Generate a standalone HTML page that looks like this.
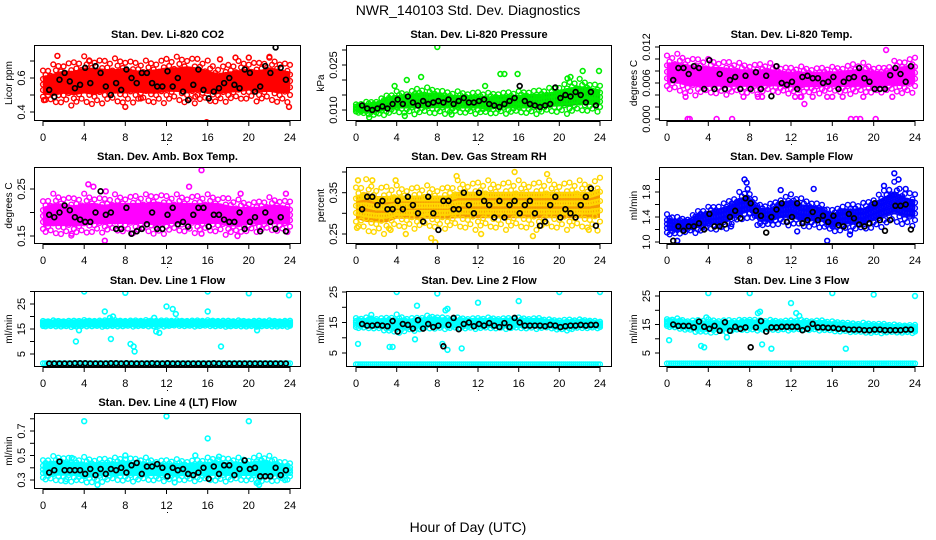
<!DOCTYPE html>
<html><head><meta charset="utf-8"><style>
html,body{margin:0;padding:0;background:#fff}
svg{display:block;font-family:"Liberation Sans",Arial,sans-serif}
</style></head><body>
<svg id="chart" width="936" height="540" viewBox="0 0 936 540" xmlns="http://www.w3.org/2000/svg">
<rect width="936" height="540" fill="#fff"/>
<text x="468" y="15" text-anchor="middle" font-size="14">NWR_140103  Std. Dev. Diagnostics</text>
<text x="468" y="532" text-anchor="middle" font-size="14">Hour of Day (UTC)</text>
<g id="panels"></g>
</svg>
<script>
// ---- shared hours ----
const bandHours = [0,1,2,3,4,5,6,7,8,9,10,11,12,13,14,15,16,17,18,19,20,21,22,23,24];
const blackHours = [0.6,1.1,1.6,2.1,2.6,3.1,3.6,4.1,4.6,5.1,5.6,6.1,6.6,7.1,7.6,8.1,8.6,9.1,9.6,10.1,10.6,11.1,11.6,12.1,12.6,13.1,13.6,14.1,14.6,15.1,15.6,16.1,16.6,17.1,17.6,18.1,18.6,19.1,19.6,20.1,20.6,21.1,21.6,22.1,22.6,23.1,23.6];
const xTicks = [0,4,8,12,16,20,24];

// ---- panel 1: CO2 ----
const co2Lo = [0.49,0.48,0.49,0.48,0.49,0.48,0.50,0.49,0.49,0.50,0.49,0.49,0.50,0.50,0.49,0.50,0.49,0.49,0.50,0.50,0.51,0.50,0.50,0.49,0.50];
const co2Hi = [0.62,0.64,0.66,0.66,0.68,0.68,0.67,0.67,0.68,0.66,0.66,0.67,0.68,0.68,0.69,0.68,0.66,0.64,0.65,0.66,0.67,0.66,0.68,0.67,0.65];
const co2OutX = [1.4,8,15.9,20,14.8,23.9,17.2,18.7,4.5,9.5,22,0.1];
const co2OutY = [0.73,0.43,0.34,0.72,0.49,0.43,0.71,0.72,0.70,0.48,0.72,0.47];
const co2Black = [0.53,0.49,0.59,0.63,0.58,0.54,0.56,0.66,0.57,0.67,0.63,0.55,0.50,0.57,0.53,0.65,0.60,0.57,0.63,0.63,0.57,0.55,0.55,0.64,0.55,0.60,0.52,0.47,0.56,0.65,0.53,0.48,0.52,0.54,0.57,0.60,0.56,0.54,0.65,0.63,0.52,0.55,0.67,0.63,0.78,0.66,0.59];
// ---- panel 2: pressure ----
const presLo = [0.0095,0.009,0.009,0.0095,0.0100,0.0100,0.0100,0.0100,0.0100,0.0100,0.0100,0.0100,0.0100,0.0095,0.0100,0.0100,0.0100,0.0100,0.0100,0.0105,0.0105,0.0105,0.0110,0.0110,0.0110];
const presHi = [0.0115,0.0120,0.0125,0.0140,0.0150,0.0150,0.0160,0.0160,0.0160,0.0150,0.0150,0.0150,0.0150,0.0145,0.0150,0.0150,0.0150,0.0155,0.0155,0.0160,0.0170,0.0180,0.0185,0.0180,0.0170];
const presOutX = [8,6.4,5,3.8,14.2,14.6,15.9,22.3,23.9,12.7,9.4,4.8,1.3,20.8,21.1];
const presOutY = [0.031,0.021,0.020,0.018,0.022,0.022,0.022,0.023,0.023,0.018,0.0085,0.0080,0.0075,0.0205,0.021];
const presBlack = [0.0115,0.0105,0.0100,0.0105,0.0112,0.0105,0.0120,0.0135,0.0120,0.0145,0.0125,0.0115,0.0130,0.0120,0.0125,0.0130,0.0125,0.0135,0.0120,0.0130,0.0140,0.0125,0.0125,0.0130,0.0135,0.0120,0.0115,0.0110,0.0120,0.0130,0.0140,0.0180,0.0130,0.0120,0.0115,0.0110,0.0115,0.0120,0.0175,0.0140,0.0150,0.0145,0.0160,0.0150,0.0125,0.0160,0.0115];
// ---- panel 3: Li-820 temp ----
const tempLo = [0.0055,0.0055,0.0050,0.0050,0.0050,0.0050,0.0050,0.0050,0.0050,0.0050,0.0052,0.0050,0.0050,0.0050,0.0050,0.0050,0.0052,0.0050,0.0050,0.0050,0.0050,0.0052,0.0052,0.0050,0.0055];
const tempHi = [0.0098,0.0098,0.0095,0.0092,0.0090,0.0090,0.0088,0.0085,0.0085,0.0085,0.0085,0.0082,0.0080,0.0080,0.0080,0.0080,0.0080,0.0082,0.0085,0.0085,0.0082,0.0080,0.0088,0.0092,0.0095];
const tempOutX = [2,2.2,4.8,6.3,17.8,18.3,18.7,20.2,13.3,21.2,8.8,9.2,12.4,13,14.1,16,17,19,21.8,1.8,3.6,7.4,12.9,15.5];
const tempOutY = [0,0,0,0,0,0,0,0,0.0025,0.0115,0.0037,0.0037,0.0037,0.0037,0.0037,0.0037,0.0037,0.0037,0.0037,0.0037,0.0050,0.0037,0.0037,0.0037];
const tempBlack = [0.0065,0.0085,0.0085,0.0075,0.0088,0.0085,0.0050,0.0098,0.0050,0.0075,0.0050,0.0065,0.0070,0.0050,0.0072,0.0050,0.0078,0.0050,0.0072,0.0038,0.0088,0.0060,0.0057,0.0062,0.0050,0.0070,0.0072,0.0068,0.0068,0.0060,0.0062,0.0070,0.0050,0.0062,0.0068,0.0070,0.0085,0.0068,0.0062,0.0050,0.0050,0.0050,0.0073,0.0085,0.0075,0.0062,0.0088];
// ---- panel 4: amb box temp ----
const ambLo = [0.165,0.165,0.165,0.165,0.165,0.170,0.170,0.170,0.170,0.170,0.170,0.165,0.170,0.170,0.170,0.170,0.170,0.170,0.165,0.165,0.170,0.170,0.170,0.170,0.170];
const ambHi = [0.215,0.225,0.225,0.220,0.225,0.225,0.220,0.225,0.225,0.225,0.225,0.230,0.225,0.225,0.225,0.225,0.225,0.225,0.220,0.215,0.215,0.215,0.220,0.220,0.215];
const ambOutX = [15.4,4.4,6.1,6,15.4,4.9,14.2,19.2,23.6,2.8,8.6,18.9];
const ambOutY = [0.290,0.260,0.245,0.140,0.155,0.255,0.255,0.240,0.240,0.155,0.155,0.150];
const ambBlack = [0.195,0.19,0.20,0.215,0.205,0.19,0.185,0.18,0.18,0.20,0.245,0.195,0.20,0.165,0.165,0.21,0.155,0.16,0.165,0.175,0.20,0.165,0.165,0.195,0.21,0.175,0.18,0.17,0.195,0.21,0.21,0.17,0.195,0.195,0.185,0.18,0.18,0.20,0.165,0.18,0.19,0.16,0.20,0.18,0.165,0.19,0.16];
// ---- panel 5: gas stream RH ----
const rhLo = [0.28,0.27,0.27,0.27,0.28,0.28,0.28,0.28,0.28,0.28,0.28,0.28,0.28,0.28,0.28,0.28,0.28,0.28,0.28,0.28,0.28,0.28,0.28,0.28,0.28];
const rhHi = [0.35,0.36,0.35,0.35,0.35,0.35,0.35,0.35,0.35,0.35,0.36,0.36,0.36,0.36,0.36,0.36,0.36,0.36,0.36,0.36,0.36,0.36,0.36,0.36,0.37];
const rhOutX = [0.2,1.6,3.9,4.9,7.4,7.8,9.9,15.6,17.4,18.8,3.4,12.3,22.9,0.1];
const rhOutY = [0.38,0.38,0.38,0.25,0.24,0.23,0.39,0.40,0.245,0.395,0.26,0.25,0.26,0.265];
const rhBlack = [0.31,0.34,0.34,0.32,0.33,0.31,0.31,0.33,0.31,0.34,0.32,0.30,0.28,0.34,0.30,0.26,0.33,0.33,0.31,0.31,0.35,0.32,0.30,0.35,0.33,0.32,0.29,0.33,0.29,0.32,0.33,0.30,0.32,0.33,0.30,0.27,0.28,0.32,0.34,0.29,0.31,0.30,0.29,0.32,0.34,0.36,0.27];
// ---- panel 6: sample flow ----
const flowLo = [1.15,1.15,1.2,1.2,1.25,1.25,1.3,1.4,1.45,1.3,1.3,1.35,1.35,1.3,1.3,1.3,1.2,1.25,1.25,1.25,1.3,1.35,1.4,1.35,1.35];
const flowHi = [1.4,1.35,1.35,1.45,1.5,1.55,1.6,1.72,1.75,1.55,1.55,1.65,1.7,1.62,1.6,1.55,1.45,1.55,1.55,1.55,1.65,1.75,1.85,1.75,1.7];
const flowOutX = [7.5,7.7,7.8,1,15.5,22,22.4,21,17.7,11,14.2,23.1,6.2,12.6];
const flowOutY = [2.0,1.95,1.85,1.02,1.02,2.1,2.0,1.9,1.12,1.83,1.85,1.85,1.25,1.17];
const flowBlack = [1.02,1.25,1.18,1.25,1.25,1.3,1.2,1.45,1.25,1.25,1.28,1.4,1.5,1.38,1.7,1.62,1.5,1.42,1.15,1.4,1.52,1.62,1.32,1.4,1.62,1.3,1.35,1.48,1.35,1.42,1.32,1.42,1.27,1.25,1.45,1.38,1.28,1.25,1.3,1.62,1.35,1.18,1.35,1.58,1.58,1.6,1.2];
// ---- panel 7: line 1 flow ----
const l1Lo = [16.2,16.3,16.3,16.2,16.3,16.4,16.3,16.3,16.4,16.4,16.3,16.4,16.4,16.5,16.4,16.4,16.4,16.4,16.3,16.3,16.3,16.3,16.3,16.3,16.3];
const l1Hi = [17.9,18,18,18,18.1,18.1,18.1,18.1,18.1,18.1,18.1,18.2,18.1,18.1,18.1,18.1,18.1,18.1,18,18,18,18,18,18,18];
const l1Floor = [1.3,1.3,1.3,1.3,1.3,1.3,1.3,1.3,1.3,1.3,1.3,1.3,1.3,1.3,1.3,1.3,1.3,1.3,1.3,1.3,1.3,1.3,1.3,1.3,1.3];
const l1OutX = [4,8,16,20,23.9,6,16,12,12.6,12.9,6.5,6.8,10.8,3.2,6.6,8.5,8.8,8.9,17.3,11,11.3,3.5,20.8];
const l1OutY = [30,29.5,30,29.3,28.5,22,22,24,23,21,19.5,20,19.5,10,11,9,8,6,8,14,13.5,14.5,14.5];
const l1Black = [1.2,1.2,1.2,1.2,1.2,1.3,1.3,1.3,1.2,1.2,1.2,1.2,1.3,1.3,1.2,1.3,1.2,1.2,1.2,1.2,1.3,1.2,1.2,1.3,1.2,1.2,1.2,1.2,1.2,1.2,1.2,1.2,1.3,1.2,1.2,1.2,1.2,1.2,1.2,1.2,1.2,1.2,1.2,1.2,1.2,1.2,1.2];
// ---- panel 8: line 2 flow ----
const l2Lo = [13.5,13.5,13.5,13,12,13,13,13.5,13.5,13.5,13.5,13.5,13.5,13.5,13.5,13.5,13.5,13.5,13.5,13.5,13,13,13.5,13.5,13.5];
const l2Hi = [16,16,16,16,16.5,16,16,16.5,16.5,16,16,16,16,16,16,16,16,16,16,15.5,15.5,15.5,15.5,15.5,15];
const l2Floor = [1.3,1.3,1.3,1.3,1.3,1.3,1.3,1.3,1.3,1.3,1.3,1.3,1.3,1.3,1.3,1.3,1.3,1.3,1.3,1.3,1.3,1.3,1.3,1.3,1.3];
const l2OutX = [4,8,16,20,24,16,12,6,9,0.2,8.5,3.3,3.6,5.8,9,10.4,8.8,1.5];
const l2OutY = [25,24.5,26,25,25,22,21.5,20.5,19.5,8,8,7,7,9.5,6,6.5,19,17.5];
const l2Black = [14.5,14,14,14.2,14,13.8,15.5,12,14.5,14.2,13,15.8,13,14.5,13.5,14,7.2,14.2,16.5,12.8,14.5,15,13.8,14.5,14,14.8,14,13.5,14.8,13.5,16.5,15,14,14,14,14,13.8,14.2,14,13.5,13.8,14,14,14.2,14,14.2,14.2];
// ---- panel 9: line 3 flow ----
const l3Lo = [14.5,14,13.5,13,12.5,13,13,13.5,13.5,13.5,13.5,13.5,13.5,13.5,13.5,13.5,13,13,12.8,12.5,12.5,12.5,12.5,12.5,12.5];
const l3Hi = [16.5,16.5,16,16,16,16,16,16,16.5,16,16,16,16,16,16,16,15.5,15.5,15,15,15,14.8,14.5,14.5,14.5];
const l3Floor = [1.3,1.3,1.3,1.3,1.3,1.3,1.3,1.3,1.3,1.3,1.3,1.3,1.3,1.3,1.3,1.3,1.3,1.3,1.3,1.3,1.3,1.3,1.3,1.3,1.3];
const l3OutX = [4,8,16,20,24,12,12.5,12.8,8.8,9,0.2,3.3,3.6,5.8,10.1,17.3,9.2,3.8];
const l3OutY = [26,26,26,25.5,25,22.5,19,18,19,19.5,9.5,7.5,7,10.5,6.5,6.5,8,17.5];
const l3Black = [15,14.5,14.5,14.5,14,16,14.2,13.5,14.5,12.8,15.8,12.8,14.2,13.5,14,7,14,16.2,12.5,14,14,14.2,14.2,14.2,14.2,13,13.5,15.2,14,14,13.8,13.8,13.5,13.5,13.2,13.2,13.2,13,13,13.2,13.2,13,13,13,13,13.2,13.2];
// ---- panel 10: line 4 (LT) flow ----
const l4Lo = [0.32,0.32,0.32,0.32,0.30,0.31,0.32,0.32,0.32,0.32,0.32,0.32,0.32,0.32,0.32,0.32,0.32,0.32,0.32,0.32,0.32,0.31,0.31,0.32,0.33];
const l4Hi = [0.44,0.46,0.47,0.45,0.45,0.45,0.45,0.45,0.46,0.45,0.45,0.44,0.44,0.44,0.44,0.44,0.45,0.46,0.45,0.45,0.45,0.47,0.46,0.44,0.42];
const l4OutX = [4,20,12,16,5.3,21,14.8,2.2,2.8,8,12.8,17.1,23.5,20.9];
const l4OutY = [0.78,0.78,0.82,0.64,0.26,0.26,0.50,0.29,0.48,0.50,0.28,0.49,0.30,0.28];
const l4Black = [0.36,0.38,0.45,0.38,0.38,0.38,0.38,0.35,0.39,0.34,0.39,0.35,0.39,0.38,0.40,0.36,0.42,0.44,0.35,0.41,0.41,0.43,0.40,0.33,0.40,0.38,0.39,0.35,0.34,0.36,0.40,0.31,0.41,0.35,0.42,0.42,0.34,0.39,0.46,0.39,0.40,0.33,0.33,0.33,0.40,0.34,0.38];

const NS = "http://www.w3.org/2000/svg";
const root = document.getElementById('panels');
const cols = [{l:34,r:301,x0:43,x24:290},{l:346,r:612,x0:356,x24:600},{l:659,r:924,x0:667,x24:915}];
const rows = [{t:45,b:121},{t:167,b:244},{t:291,b:367},{t:413,b:489}];
// rendering-only scatter offsets (fraction of band width) to give ragged cloud edges
const edgeJitter = [-0.18,0.05,-0.08,0.15,-0.25,0.0,-0.12,0.1,-0.05,0.2,-0.15,0.08];

const panels = [
 {id:'co2',title:'Stan. Dev. Li-820 CO2',ylab:'Licor ppm',c:0,r:0,v1:0.4,y1:112,v2:0.7,y2:61,ticks:[0.4,0.5,0.6,0.7],labs:['0.4','','0.6',''],col:'#ff0000',fill:'#ff0000',lo:co2Lo,hi:co2Hi,ox:co2OutX,oy:co2OutY,bk:co2Black},
 {id:'pressure',title:'Stan. Dev. Li-820 Pressure',ylab:'kPa',c:1,r:0,v1:0.010,y1:110,v2:0.030,y2:50,ticks:[0.010,0.015,0.020,0.025,0.030],labs:['0.010','','','0.025',''],col:'#00ee00',fill:'#11bb11',lo:presLo,hi:presHi,ox:presOutX,oy:presOutY,bk:presBlack},
 {id:'li820-temp',title:'Stan. Dev. Li-820 Temp.',ylab:'degrees C',c:2,r:0,v1:0,y1:119,v2:0.012,y2:47,ticks:[0,0.002,0.004,0.006,0.008,0.010,0.012],labs:['0.000','','','0.006','','','0.012'],col:'#ff00ff',fill:'#ff00ff',lo:tempLo,hi:tempHi,ox:tempOutX,oy:tempOutY,bk:tempBlack},
 {id:'amb-box-temp',title:'Stan. Dev. Amb. Box Temp.',ylab:'degrees C',c:0,r:1,v1:0.15,y1:236,v2:0.25,y2:189,ticks:[0.15,0.20,0.25],labs:['0.15','','0.25'],col:'#ff00ff',fill:'#ff00ff',lo:ambLo,hi:ambHi,ox:ambOutX,oy:ambOutY,bk:ambBlack},
 {id:'gas-rh',title:'Stan. Dev. Gas Stream RH',ylab:'percent',c:1,r:1,v1:0.25,y1:234,v2:0.40,y2:172,ticks:[0.25,0.30,0.35,0.40],labs:['0.25','','0.35',''],col:'#ffd700',fill:'#f59a00',lo:rhLo,hi:rhHi,ox:rhOutX,oy:rhOutY,bk:rhBlack},
 {id:'sample-flow',title:'Stan. Dev. Sample Flow',ylab:'ml/min',c:2,r:1,v1:1.0,y1:242,v2:1.8,y2:192,ticks:[1.0,1.2,1.4,1.6,1.8,2.0],labs:['1.0','','1.4','','1.8',''],col:'#0000ff',fill:'#1a1aee',lo:flowLo,hi:flowHi,ox:flowOutX,oy:flowOutY,bk:flowBlack},
 {id:'line1-flow',title:'Stan. Dev. Line 1 Flow',ylab:'ml/min',c:0,r:2,v1:5,y1:354,v2:25,y2:304,ticks:[5,10,15,20,25,30],labs:['5','','15','','25',''],col:'#00ffff',fill:'#00ffff',lo:l1Lo,hi:l1Hi,floor:l1Floor,ox:l1OutX,oy:l1OutY,bk:l1Black},
 {id:'line2-flow',title:'Stan. Dev. Line 2 Flow',ylab:'ml/min',c:1,r:2,v1:5,y1:353,v2:25,y2:292,ticks:[5,10,15,20,25],labs:['5','','15','','25'],col:'#00ffff',fill:'#00ffff',lo:l2Lo,hi:l2Hi,floor:l2Floor,ox:l2OutX,oy:l2OutY,bk:l2Black},
 {id:'line3-flow',title:'Stan. Dev. Line 3 Flow',ylab:'ml/min',c:2,r:2,v1:5,y1:353,v2:25,y2:296,ticks:[5,10,15,20,25],labs:['5','','15','','25'],col:'#00ffff',fill:'#00ffff',lo:l3Lo,hi:l3Hi,floor:l3Floor,ox:l3OutX,oy:l3OutY,bk:l3Black},
 {id:'line4-flow',title:'Stan. Dev. Line 4 (LT) Flow',ylab:'ml/min',c:0,r:3,v1:0.3,y1:480,v2:0.7,y2:431,ticks:[0.3,0.4,0.5,0.6,0.7,0.8],labs:['0.3','','0.5','','0.7',''],col:'#00ffff',fill:'#00ffff',lo:l4Lo,hi:l4Hi,ox:l4OutX,oy:l4OutY,bk:l4Black}
];

function mk(tag, attrs, parent){
  const e = document.createElementNS(NS, tag);
  for (const k in attrs) e.setAttribute(k, attrs[k]);
  parent.appendChild(e);
  return e;
}
function interp(arr, t){
  const i = Math.min(Math.floor(t), arr.length-2);
  const f = t - i;
  return arr[i]*(1-f) + arr[i+1]*f;
}
function circ(g, x, y, color, w, name){
  const c = mk('circle', {cx:x.toFixed(1), cy:y.toFixed(1), r:2.4, fill:'none', stroke:color, 'stroke-width':w}, g);
  
  
}

panels.forEach(p => {
  const C = cols[p.c], R = rows[p.r];
  const xs = h => C.x0 + h*(C.x24 - C.x0)/24;
  const ys = v => p.y1 + (v - p.v1)*(p.y2 - p.y1)/(p.v2 - p.v1);
  const g = mk('g', {}, root);
  
  
  const cid = 'clip-' + p.id;
  const cp = mk('clipPath', {id:cid}, g);
  mk('rect', {x:C.l, y:R.t, width:C.r-C.l, height:R.b-R.t}, cp);
  const plot = mk('g', {'clip-path':'url(#'+cid+')'}, g);
  
  

  // band area (slightly inset core)
  let pts = [];
  bandHours.forEach((h,i) => pts.push(xs(h).toFixed(1)+','+ys(p.hi[i] - (p.hi[i]-p.lo[i])*0.1).toFixed(1)));
  for (let i = bandHours.length-1; i >= 0; i--) pts.push(xs(bandHours[i]).toFixed(1)+','+ys(p.lo[i] + (p.hi[i]-p.lo[i])*0.1).toFixed(1));
  const band = mk('polygon', {points:pts.join(' '), fill:p.fill, stroke:'none'}, plot);
  
  

  // cloud circles with ragged edges
  let n = 0;
  for (let t = 0; t <= 24.001; t += 0.25) {
    const tt = Math.min(t,24);
    const lo = interp(p.lo, tt), hi = interp(p.hi, tt), w = hi - lo;
    const jt = edgeJitter[n % edgeJitter.length], jb = edgeJitter[(n+5) % edgeJitter.length];
    [jb, 0.3, 0.55, 0.8, 1 - jt].forEach(f => {
      circ(plot, xs(tt), ys(lo + w*f), p.col, 1.4, p.id + '-point');
    });
    n++;
  }
  if (p.floor) {
    for (let t = 0; t <= 24.001; t += 0.2) {
      circ(plot, xs(t), ys(interp(p.floor, Math.min(t,24))), p.col, 1.4, p.id + '-floor-point');
    }
  }
  // outliers
  p.ox.forEach((h,i) => circ(plot, xs(h), ys(p.oy[i]), p.col, 1.6, p.id + '-outlier'));
  // black hourly points
  blackHours.forEach((h,i) => { if (p.bk[i] !== undefined) circ(plot, xs(h), ys(p.bk[i]), '#000', 1.7, p.id + '-hourly-point'); });

  // frame
  const fr = mk('rect', {x:C.l+0.5, y:R.t+0.5, width:C.r-C.l-1, height:R.b-R.t-1, fill:'none', stroke:'#000', 'stroke-width':1}, g);
  
  

  // x axis
  const xa = mk('g', {}, g);
  
  
  mk('line', {x1:xs(0), x2:xs(24), y1:R.b+0.5, y2:R.b+0.5, stroke:'#000'}, xa);
  xTicks.forEach(h => {
    mk('line', {x1:xs(h).toFixed(1), x2:xs(h).toFixed(1), y1:R.b, y2:R.b+5, stroke:'#000'}, xa);
    const tx = mk('text', {x:xs(h).toFixed(1), y:R.b+20, 'text-anchor':'middle', 'font-size':11}, xa);
    tx.textContent = h;
    
    
  });
  mk('rect', {x:xs(12).toFixed(0), y:R.b+23, width:1, height:1, fill:'#000'}, xa);

  // y axis
  const ya = mk('g', {}, g);
  
  
  p.ticks.forEach((v,i) => {
    const y = ys(v);
    mk('line', {x1:C.l-4, x2:C.l, y1:y.toFixed(1), y2:y.toFixed(1), stroke:'#000'}, ya);
    if (p.labs[i]) {
      const tx = mk('text', {x:0, y:0, transform:'translate('+(C.l-9)+','+y.toFixed(1)+') rotate(-90)', 'text-anchor':'middle', 'font-size':11}, ya);
      tx.textContent = p.labs[i];
      
      
    }
  });
  const yt = mk('text', {x:0, y:0, transform:'translate('+(C.l-22)+','+((R.t+R.b)/2)+') rotate(-90)', 'text-anchor':'middle', 'font-size':10}, ya);
  yt.textContent = p.ylab;
  
  

  // title
  const tt = mk('text', {x:(C.l+C.r)/2, y:R.t-7, 'text-anchor':'middle', 'font-size':11, 'font-weight':'bold'}, g);
  tt.textContent = p.title;
  
  
});
</script>
</body></html>
